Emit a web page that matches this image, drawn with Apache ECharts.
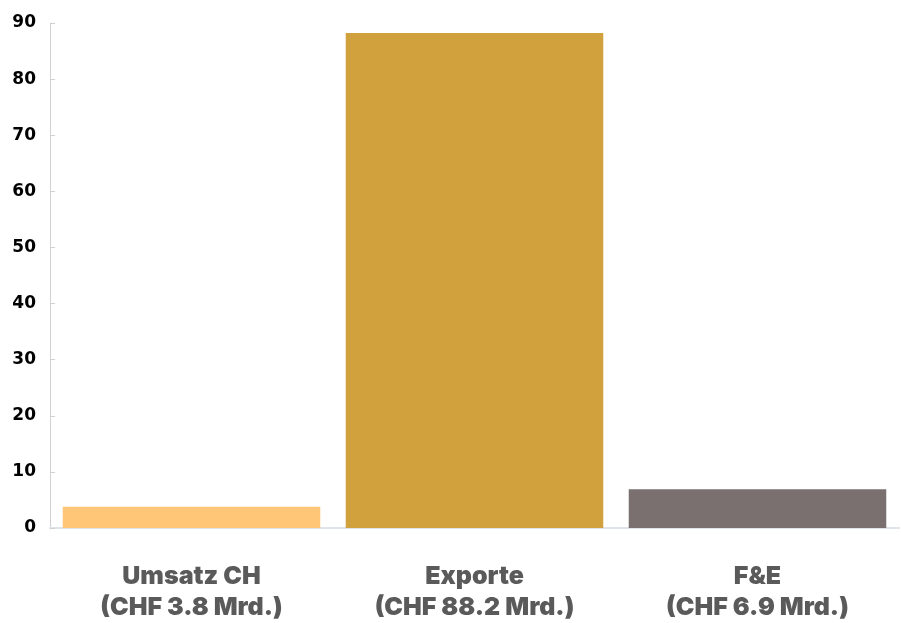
<!DOCTYPE html>
<html><head><meta charset="utf-8">
<script src="https://cdn.jsdelivr.net/npm/echarts@6/dist/echarts.min.js"></script>
<style>html,body{margin:0;padding:0;background:#fff}#c{width:901px;height:623px}</style>
</head><body><div id="c"></div>
<script>
const categories = ["Umsatz CH\n(CHF 3.8 Mrd.)", "Exporte\n(CHF 88.2 Mrd.)", "F&E\n(CHF 6.9 Mrd.)"];
const values = [3.8, 88.2, 6.9];
const barColors = ["#FFC677", "#D0A13C", "#7A7070"];

const chart = echarts.init(document.getElementById('c'));
chart.setOption({
  animation: false,
  grid: {left: 50, right: 2, top: 23, bottom: 93},
  xAxis: {
    type: 'category', data: categories,
    axisLine: {lineStyle: {color: '#dfe4ea', width: 2}},
    axisTick: {show: false},
    axisLabel: {color: '#5a5a5a', fontFamily: 'Inter', fontWeight: 900, fontSize: 25, lineHeight: 31, margin: 33}
  },
  yAxis: {
    type: 'value', min: 0, max: 90, interval: 10,
    axisLine: {show: true, lineStyle: {color: '#d0d0d0'}},
    axisTick: {show: true, inside: true, length: 5, lineStyle: {color: '#d0d0d0'}},
    splitLine: {show: false},
    axisLabel: {color: '#000', fontFamily: '"DejaVu Sans", Verdana', fontWeight: 'bold', fontSize: 17, margin: 14}
  },
  series: [{
    type: 'bar',
    data: values.map((v, i) => ({value: v, itemStyle: {color: barColors[i]}})),
    barCategoryGap: '9%'
  }]
});
</script></body></html>
